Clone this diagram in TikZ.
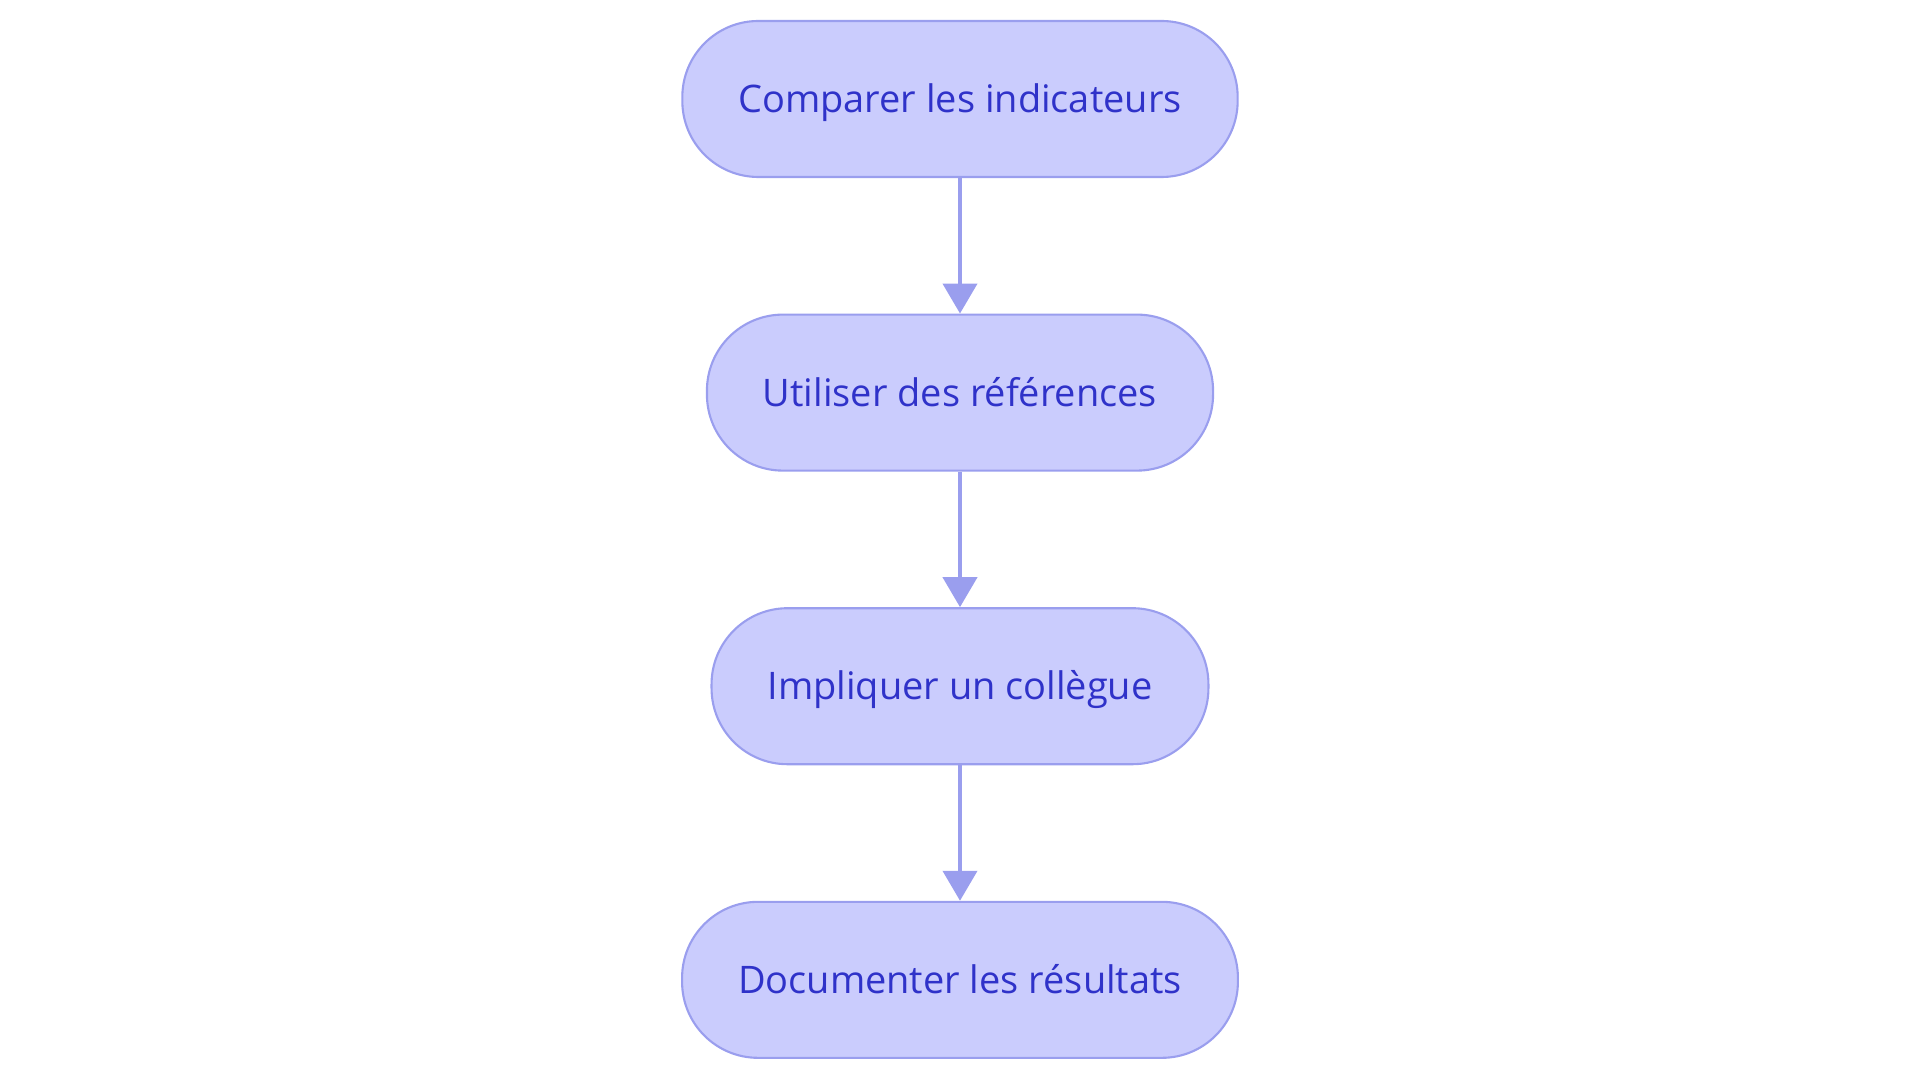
\documentclass[tikz,border=0pt]{standalone}
\usepackage{fontspec}
\setmainfont{Open Sans}
\usepackage{tikz}
\usetikzlibrary{positioning, arrows.meta}
\usepackage{xcolor}
\definecolor{boxfill}{HTML}{CACCFD}
\definecolor{boxline}{HTML}{9A9EEE}
\definecolor{boxtext}{HTML}{2F32C9}

\begin{document}
\begin{tikzpicture}[node distance=1.355cm]
% Define styles
\tikzstyle{etape}=[rectangle, draw=boxline, line width=0.6pt, fill=boxfill, rounded corners=0.76cm, minimum height=1.56cm, inner xsep=0.56cm, text height=10.3pt, text depth=2.6pt, text=boxtext, font=\fontsize{10.8}{13}\selectfont]
\tikzstyle{arrow} = [draw=boxline, line width=1.2pt, -{Triangle[width=0.34cm, length=0.3cm]}]
\useasboundingbox (-9.6,0.99) rectangle (9.6,-9.84);
% Place nodes
\node[etape] (comparer) {Comparer les indicateurs};
\node[etape, below=of comparer] (references) {Utiliser des références};
\node[etape, below=of references] (collegue) {Impliquer un collègue};
\node[etape, below=of collegue] (documenter) {Documenter les résultats};
% Draw arrows
\draw[arrow] (comparer) -- (references);
\draw[arrow] (references) -- (collegue);
\draw[arrow] (collegue) -- (documenter);
\end{tikzpicture}
\end{document}
